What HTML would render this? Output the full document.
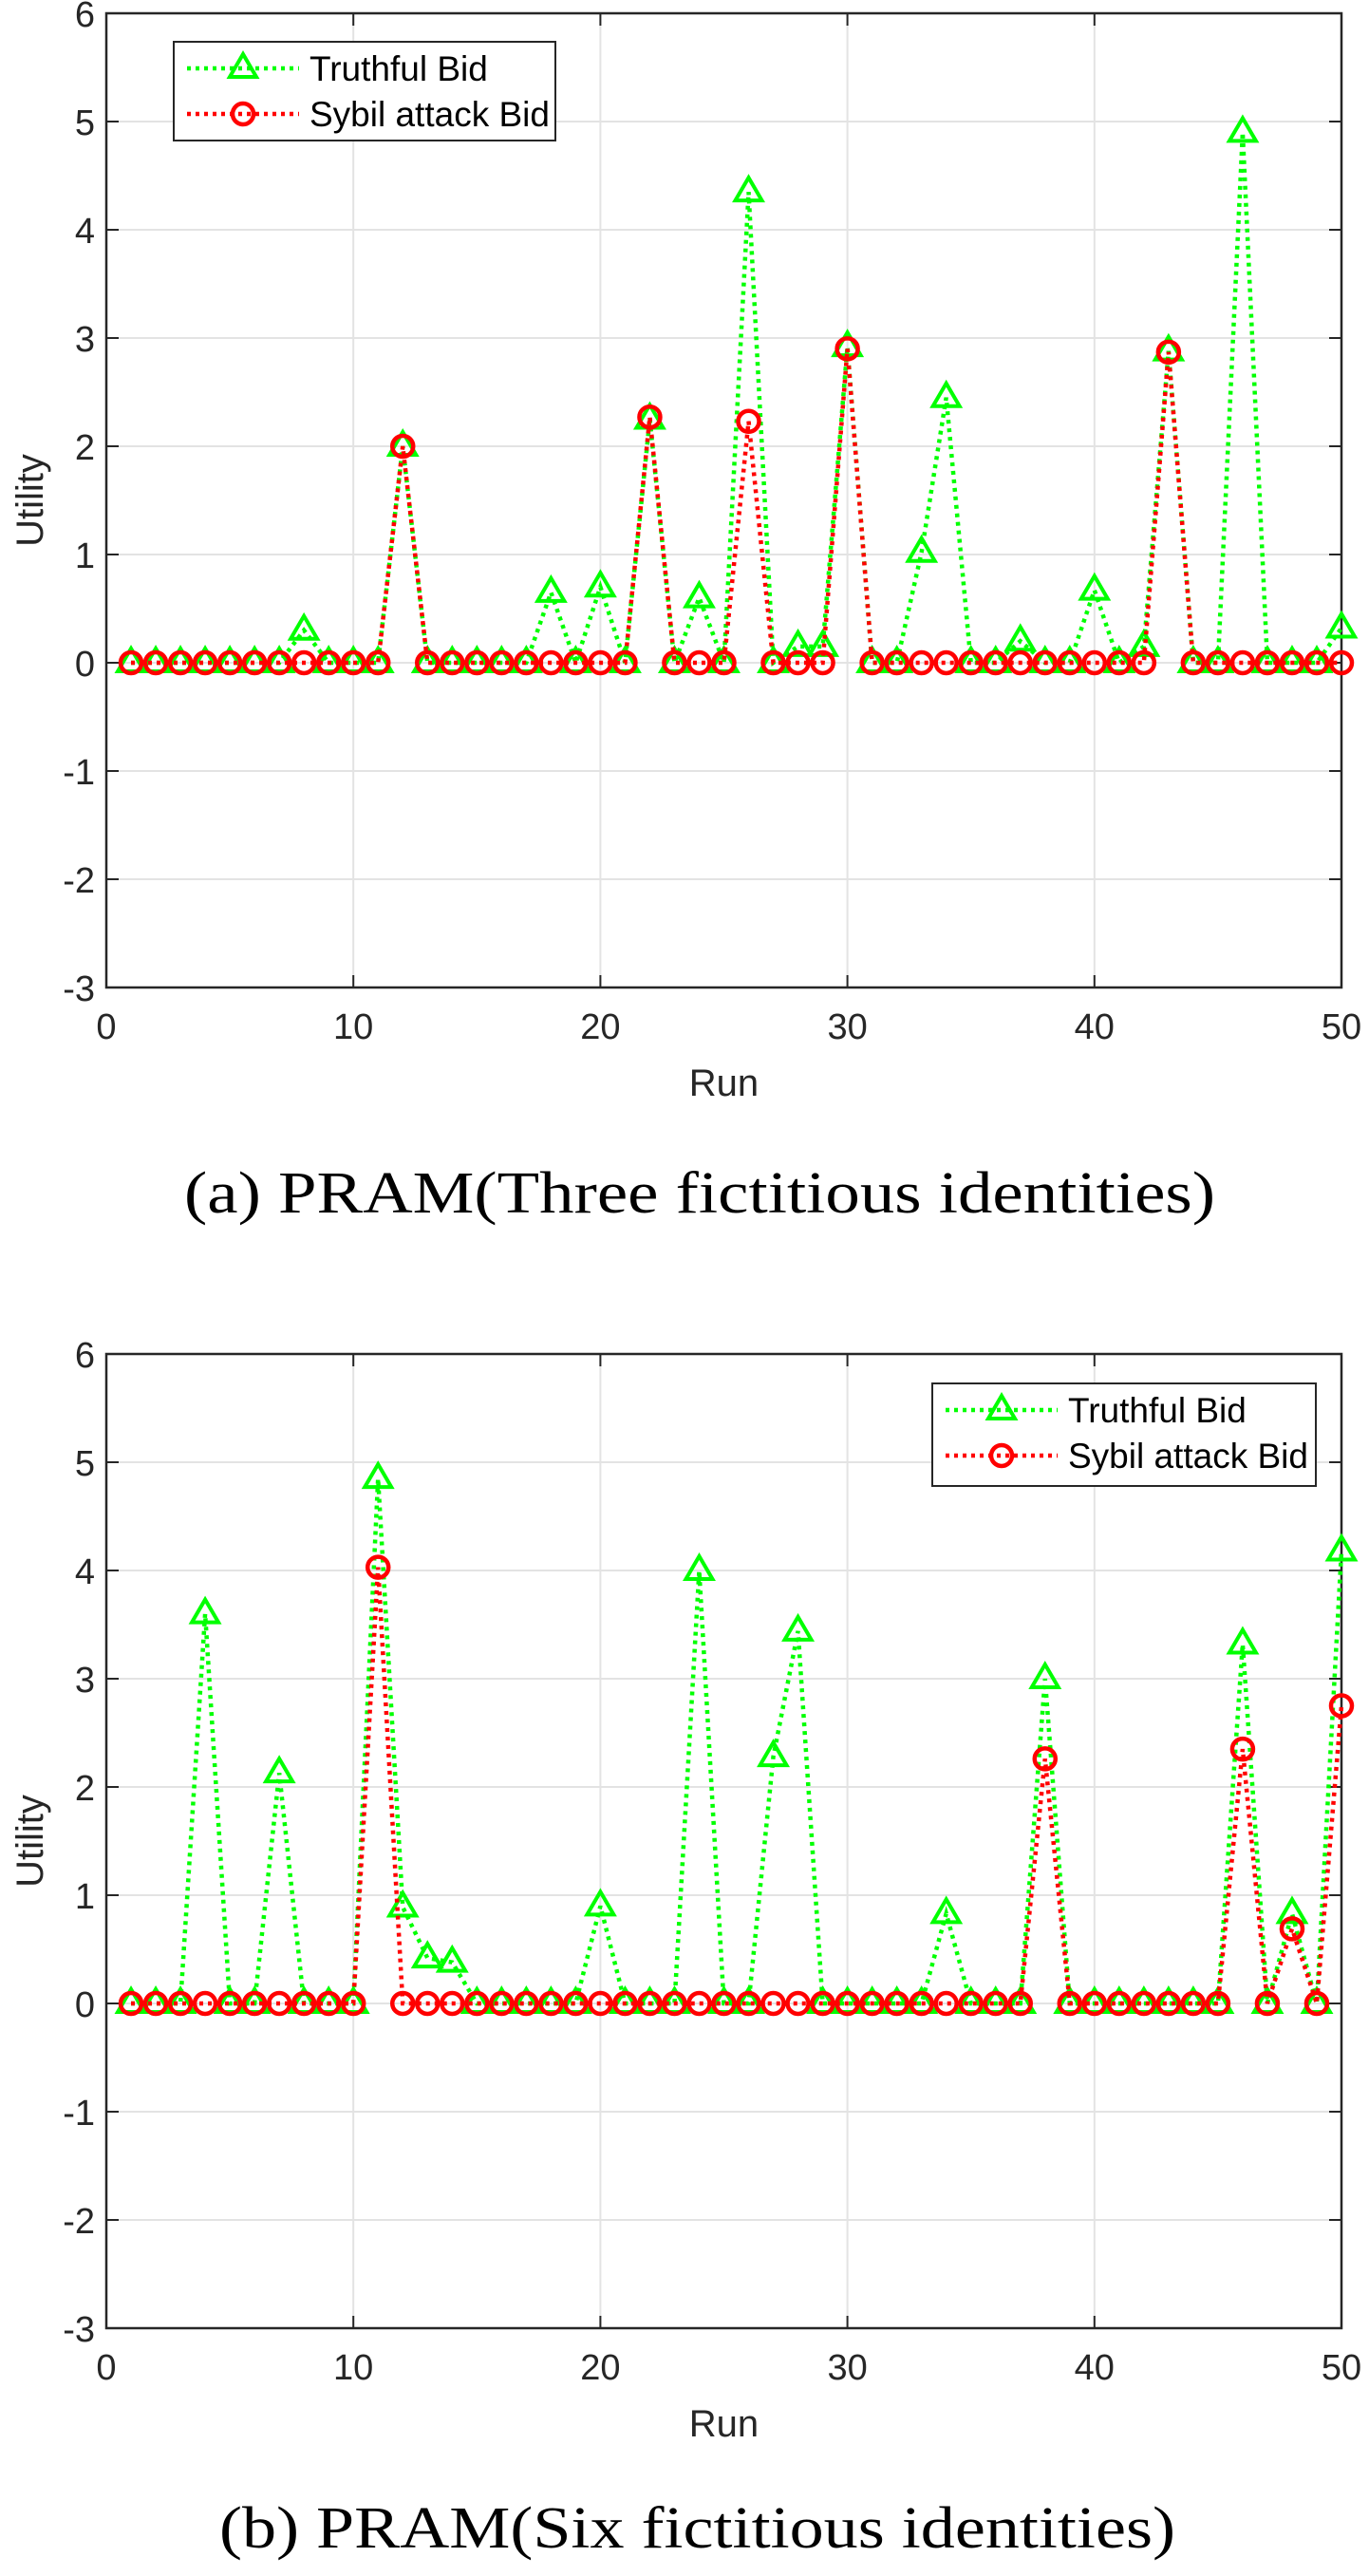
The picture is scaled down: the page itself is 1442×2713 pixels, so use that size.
<!DOCTYPE html>
<html><head><meta charset="utf-8"><style>
html,body{margin:0;padding:0;background:#fff}
svg text{font-family:"Liberation Sans",Arial,sans-serif}
</style></head><body>
<svg id="root" width="1442" height="2708" viewBox="0 0 1442 2708" xmlns="http://www.w3.org/2000/svg"></svg>
<script>
const runs = Array.from({length:50},(_,i)=>i+1);
const truthfulA = [0,0,0,0,0,0,0,0.3,0,0,0,2.0,0,0,0,0,0,0.65,0,0.7,0,2.25,0,0.6,0,4.35,0,0.15,0.15,2.92,0,0,1.02,2.45,0,0,0.2,0,0,0.67,0,0.15,2.88,0,0,4.9,0,0,0,0.32];
const sybilA    = [0,0,0,0,0,0,0,0,0,0,0,2.0,0,0,0,0,0,0,0,0,0,2.27,0,0,0,2.23,0,0,0,2.9,0,0,0,0,0,0,0,0,0,0,0,0,2.87,0,0,0,0,0,0,0];
const truthfulB = [0,0,0,3.6,0,0,2.13,0,0,0,4.85,0.89,0.42,0.38,0,0,0,0,0,0.9,0,0,0,4.0,0,0,2.28,3.44,0,0,0,0,0,0.83,0,0,0,3.0,0,0,0,0,0,0,0,3.32,0,0.83,0,4.18];
const sybilB    = [0,0,0,0,0,0,0,0,0,0,4.03,0,0,0,0,0,0,0,0,0,0,0,0,0,0,0,0,0,0,0,0,0,0,0,0,0,0,2.26,0,0,0,0,0,0,0,2.35,0,0.69,0,2.75];
const xTicks = [0,10,20,30,40,50];
const yTicks = [-3,-2,-1,0,1,2,3,4,5,6];
const legendLabels = ["Truthful Bid","Sybil attack Bid"];
const captions = ["(a)  PRAM(Three fictitious identities)","(b)  PRAM(Six fictitious identities)"];

const NS="http://www.w3.org/2000/svg";
const root=document.getElementById('root');
function mk(tag,attrs,parent){const e=document.createElementNS(NS,tag);for(const k in attrs)e.setAttribute(k,attrs[k]);(parent||root).appendChild(e);return e;}

function chart(idx,top,bottom,truth,sybil,legend){
  const L=112,R=1413,T=top,B=bottom;
  const g=mk('g',{});
  
  
  const xs=v=>L+(v-0)/(50-0)*(R-L);
  const ys=v=>B-(v+3)/9*(B-T);
  xTicks.forEach(t=>{
    const l=mk('line',{x1:xs(t),x2:xs(t),y1:T,y2:B,stroke:'#e3e3e3','stroke-width':2},g);
    
    
  });
  yTicks.forEach(t=>{
    const l=mk('line',{x1:L,x2:R,y1:ys(t),y2:ys(t),stroke:'#e3e3e3','stroke-width':2},g);
    
    
  });
  xTicks.forEach(t=>{
    mk('line',{x1:xs(t),x2:xs(t),y1:B,y2:B-13,stroke:'#262626','stroke-width':2},g);
    mk('line',{x1:xs(t),x2:xs(t),y1:T,y2:T+13,stroke:'#262626','stroke-width':2},g);
    const tx=mk('text',{x:xs(t),y:B+54,'text-anchor':'middle','font-size':38,fill:'#262626'},g);
    tx.textContent=t;
    
    
  });
  yTicks.forEach(t=>{
    mk('line',{x1:L,x2:L+13,y1:ys(t),y2:ys(t),stroke:'#262626','stroke-width':2},g);
    mk('line',{x1:R,x2:R-13,y1:ys(t),y2:ys(t),stroke:'#262626','stroke-width':2},g);
    const tx=mk('text',{x:L-12,y:ys(t)+14,'text-anchor':'end','font-size':38,fill:'#262626'},g);
    tx.textContent=t;
    
    
  });
  const box=mk('rect',{x:L,y:T,width:R-L,height:B-T,fill:'none',stroke:'#262626','stroke-width':2.5},g);
  
  
  const xl=mk('text',{x:(L+R)/2,y:B+114,'text-anchor':'middle','font-size':40,fill:'#262626'},g);
  xl.textContent='Run';
  
  
  const cy=(T+B)/2;
  const yl=mk('text',{x:45,y:cy,'text-anchor':'middle','font-size':40,fill:'#262626',transform:`rotate(-90 45 ${cy})`},g);
  yl.textContent='Utility';
  
  
  function series(vals,color,marker,name){
    const pts=runs.map((r,i)=>xs(r)+','+ys(vals[i])).join(' ');
    const pl=mk('polyline',{points:pts,fill:'none',stroke:color,'stroke-width':4.5,'stroke-dasharray':'4 5'},g);
    
    
    runs.forEach((r,i)=>{
      const x=xs(r),y=ys(vals[i]);
      let m;
      if(marker==='tri') m=mk('polygon',{points:`${x},${y-15} ${x-14},${y+9} ${x+14},${y+9}`,fill:'none',stroke:color,'stroke-width':4},g);
      else m=mk('circle',{cx:x,cy:y,r:11,fill:'none',stroke:color,'stroke-width':4.5},g);
      
      
    });
  }
  series(truth,'#00ff00','tri','truthful-bid');
  series(sybil,'#ff0000','circ','sybil-bid');
  const lg=mk('g',{},g);
  
  
  mk('rect',{x:legend.x,y:legend.y,width:legend.w,height:legend.h,fill:'#fff',stroke:'#262626','stroke-width':2},lg);
  [['#00ff00','tri'],['#ff0000','circ']].forEach(([c,m],i)=>{
    const yy=legend.y+28+i*48, x0=legend.x+14, x1=legend.x+132, xm=(x0+x1)/2;
    mk('line',{x1:x0,x2:x1,y1:yy,y2:yy,stroke:c,'stroke-width':4.5,'stroke-dasharray':'4 5'},lg);
    if(m==='tri') mk('polygon',{points:`${xm},${yy-15} ${xm-14},${yy+9} ${xm+14},${yy+9}`,fill:'none',stroke:c,'stroke-width':4},lg);
    else mk('circle',{cx:xm,cy:yy,r:11,fill:'none',stroke:c,'stroke-width':4.5},lg);
    const t=mk('text',{x:legend.x+143,y:yy+13,'font-size':37,fill:'#000'},lg);
    t.textContent=legendLabels[i];
    
    
  });
}
chart(0,14,1040,truthfulA,sybilA,{x:183,y:44,w:402,h:104});
chart(1,1426,2452,truthfulB,sybilB,{x:982,y:1457,w:404,h:108});
[[1277,0,194,1086],[2683,1,231,1007]].forEach(([y,i,x,w])=>{
  const t=mk('text',{x:x,y:y,'font-size':62,fill:'#000',textLength:w,lengthAdjust:'spacingAndGlyphs'});
  t.setAttribute('style','font-family:"Liberation Serif",serif');
  t.textContent=captions[i];
  
  
});
</script>
</body></html>
